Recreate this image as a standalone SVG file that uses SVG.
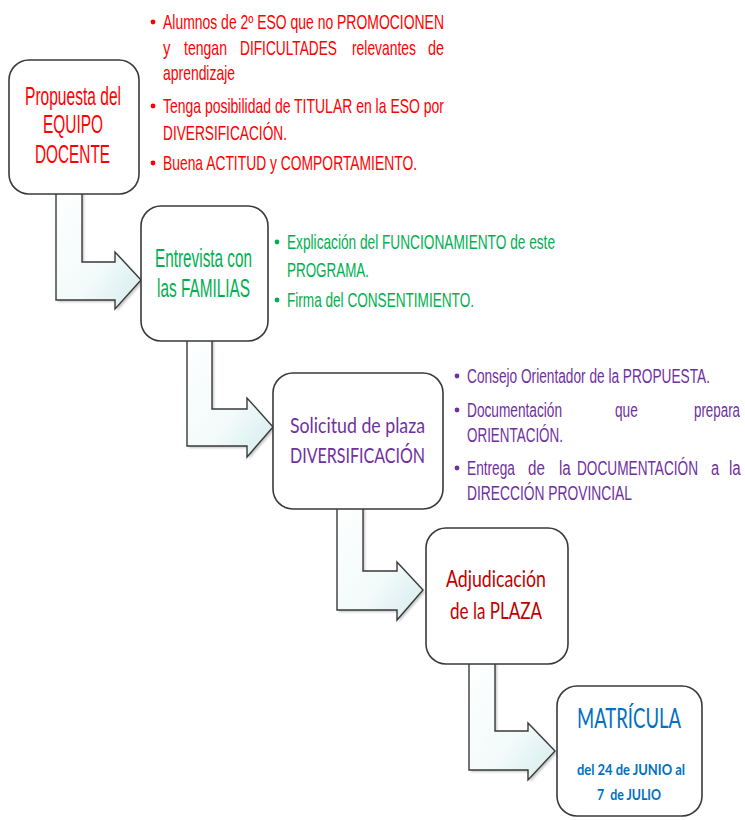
<svg xmlns="http://www.w3.org/2000/svg" width="745" height="820" viewBox="0 0 745 820">
<style>
.box{fill:#ffffff;stroke:#3a3a3a;stroke-width:1.6}
.arr{fill:url(#ag);stroke:#3a3a3a;stroke-width:1.4;stroke-linejoin:miter}
.sh{fill:#7f7f7f;opacity:0.45}
.n{font-family:"Liberation Sans",Arial,sans-serif}
.c{font-family:Lato,"Open Sans",sans-serif}
.red{fill:#ff0000}
.grn{fill:#00b050}
.pur{fill:#7030a0}
.dred{fill:#c00000}
.blu{fill:#0070c0}
.s20{font-size:20px}
.s21{font-size:21px}
.s22{font-size:22px}
.s25{font-size:25px}
</style>
<defs>
<linearGradient id="ag" x1="0" y1="0" x2="1" y2="1">
<stop offset="0" stop-color="#ffffff"/>
<stop offset="0.6" stop-color="#f2fafa"/>
<stop offset="1" stop-color="#d3ebeb"/>
</linearGradient>
<filter id="blur" x="-10%" y="-10%" width="120%" height="120%"><feGaussianBlur stdDeviation="1.2"/></filter>
</defs>
<rect width="745" height="820" fill="#ffffff"/>

<g id="connectors">
<path class="sh" filter="url(#blur)" transform="translate(2,2)" d="M56,190 V300 H115 V309 L141,280 L115,252 V262 H82 V190 Z"/>
<path class="arr" d="M56,190 V300 H115 V309 L141,280 L115,252 V262 H82 V190 Z"/>
<path class="sh" filter="url(#blur)" transform="translate(2,2)" d="M187,338 V446 H247 V457 L273,427 L247,398 V409 H212 V338 Z"/>
<path class="arr" d="M187,338 V446 H247 V457 L273,427 L247,398 V409 H212 V338 Z"/>
<path class="sh" filter="url(#blur)" transform="translate(2,2)" d="M337,505 V610 H397 V620 L423,590 L397,562 V571 H363 V505 Z"/>
<path class="arr" d="M337,505 V610 H397 V620 L423,590 L397,562 V571 H363 V505 Z"/>
<path class="sh" filter="url(#blur)" transform="translate(2,2)" d="M469,661 V770 H528 V780 L555,751 L528,723 V731 H495 V661 Z"/>
<path class="arr" d="M469,661 V770 H528 V780 L555,751 L528,723 V731 H495 V661 Z"/>
</g>

<g id="node-propuesta">
<rect class="box" x="9" y="60" width="130" height="134" rx="20"/>
<text class="n s25 red" x="25" y="105" textLength="96" lengthAdjust="spacingAndGlyphs">Propuesta del</text>
<text class="n s25 red" x="43" y="133" textLength="60" lengthAdjust="spacingAndGlyphs">EQUIPO</text>
<text class="n s25 red" x="35" y="163" textLength="75" lengthAdjust="spacingAndGlyphs">DOCENTE</text>
</g>

<g id="notes-propuesta" class="n s20 red">
<circle cx="153" cy="22" r="2.4"/>
<text transform="translate(163,29) scale(0.7,1)" textLength="401.4" lengthAdjust="spacingAndGlyphs">Alumnos de 2º ESO que no PROMOCIONEN</text>
<text transform="translate(163,55) scale(0.75,1)">y</text>
<text transform="translate(184,55) scale(0.7,1)" textLength="61.4" lengthAdjust="spacingAndGlyphs">tengan</text>
<text transform="translate(240,55) scale(0.7,1)" textLength="138.6" lengthAdjust="spacingAndGlyphs">DIFICULTADES</text>
<text transform="translate(352,55) scale(0.7,1)" textLength="91.4" lengthAdjust="spacingAndGlyphs">relevantes</text>
<text transform="translate(428,55) scale(0.72,1)">de</text>
<text transform="translate(163,80) scale(0.7,1)" textLength="102.9" lengthAdjust="spacingAndGlyphs">aprendizaje</text>
<circle cx="153" cy="106" r="2.4"/>
<text transform="translate(163,113) scale(0.7,1)" textLength="401.4" lengthAdjust="spacingAndGlyphs">Tenga posibilidad de TITULAR en la ESO por</text>
<text transform="translate(163,140) scale(0.7,1)" textLength="177.1" lengthAdjust="spacingAndGlyphs">DIVERSIFICACIÓN.</text>
<circle cx="153" cy="163" r="2.4"/>
<text transform="translate(163,170) scale(0.7,1)" textLength="362.9" lengthAdjust="spacingAndGlyphs">Buena ACTITUD y COMPORTAMIENTO.</text>
</g>

<g id="node-entrevista">
<rect class="box" x="141" y="206" width="127" height="135" rx="20"/>
<text class="n s25 grn" x="155" y="267" textLength="97" lengthAdjust="spacingAndGlyphs">Entrevista con</text>
<text class="n s25 grn" x="157" y="297" textLength="93" lengthAdjust="spacingAndGlyphs">las FAMILIAS</text>
</g>

<g id="notes-entrevista" class="n s21 grn">
<circle cx="277" cy="242" r="2.4"/>
<text transform="translate(287,249) scale(0.62,1)" textLength="432.3" lengthAdjust="spacingAndGlyphs">Explicación del FUNCIONAMIENTO de este</text>
<text transform="translate(287,277) scale(0.62,1)" textLength="132.3" lengthAdjust="spacingAndGlyphs">PROGRAMA.</text>
<circle cx="277" cy="300" r="2.4"/>
<text transform="translate(287,307) scale(0.62,1)" textLength="301.6" lengthAdjust="spacingAndGlyphs">Firma del CONSENTIMIENTO.</text>
</g>

<g id="node-solicitud">
<rect class="box" x="273" y="373" width="170" height="136" rx="20"/>
<text class="c s22 pur" x="290" y="433" textLength="135" lengthAdjust="spacingAndGlyphs">Solicitud de plaza</text>
<text class="c s22 pur" x="290" y="463" textLength="135" lengthAdjust="spacingAndGlyphs">DIVERSIFICACIÓN</text>
</g>

<g id="notes-solicitud" class="n s21 pur">
<circle cx="457" cy="376" r="2.4"/>
<text transform="translate(467,383) scale(0.65,1)" textLength="373.8" lengthAdjust="spacingAndGlyphs">Consejo Orientador de la PROPUESTA.</text>
<circle cx="457" cy="410" r="2.4"/>
<text transform="translate(467,417) scale(0.65,1)" textLength="146.2" lengthAdjust="spacingAndGlyphs">Documentación</text>
<text transform="translate(615,417) scale(0.65,1)">que</text>
<text transform="translate(694,417) scale(0.65,1)" textLength="70.8" lengthAdjust="spacingAndGlyphs">prepara</text>
<text transform="translate(467,442) scale(0.65,1)" textLength="147.7" lengthAdjust="spacingAndGlyphs">ORIENTACIÓN.</text>
<circle cx="457" cy="468" r="2.4"/>
<text transform="translate(467,475) scale(0.65,1)" textLength="73.8" lengthAdjust="spacingAndGlyphs">Entrega</text>
<text transform="translate(528,475) scale(0.72,1)">de</text>
<text transform="translate(559,475) scale(0.72,1)">la</text>
<text transform="translate(577,475) scale(0.65,1)" textLength="186.2" lengthAdjust="spacingAndGlyphs">DOCUMENTACIÓN</text>
<text transform="translate(711,475) scale(0.7,1)">a</text>
<text transform="translate(729,475) scale(0.72,1)">la</text>
<text transform="translate(467,500) scale(0.65,1)" textLength="253.8" lengthAdjust="spacingAndGlyphs">DIRECCIÓN PROVINCIAL</text>
</g>

<g id="node-adjudicacion">
<rect class="box" x="426" y="528" width="142" height="136" rx="20"/>
<text class="c dred" font-size="24" x="446" y="587" textLength="100" lengthAdjust="spacingAndGlyphs">Adjudicación</text>
<text class="c dred" font-size="24" x="450" y="619" textLength="92" lengthAdjust="spacingAndGlyphs">de la PLAZA</text>
</g>

<g id="node-matricula">
<rect class="box" x="557" y="686" width="145" height="130" rx="20"/>
<text class="c blu" font-size="26" x="577" y="728" textLength="104" lengthAdjust="spacingAndGlyphs">MATRÍCULA</text>
<text class="c blu" font-size="16" font-weight="bold" x="577" y="775" textLength="108" lengthAdjust="spacingAndGlyphs">del 24 de JUNIO al</text>
<text class="c blu" font-size="16" font-weight="bold" x="597" y="800" textLength="64" lengthAdjust="spacingAndGlyphs" xml:space="preserve">7  de JULIO</text>
</g>
</svg>
